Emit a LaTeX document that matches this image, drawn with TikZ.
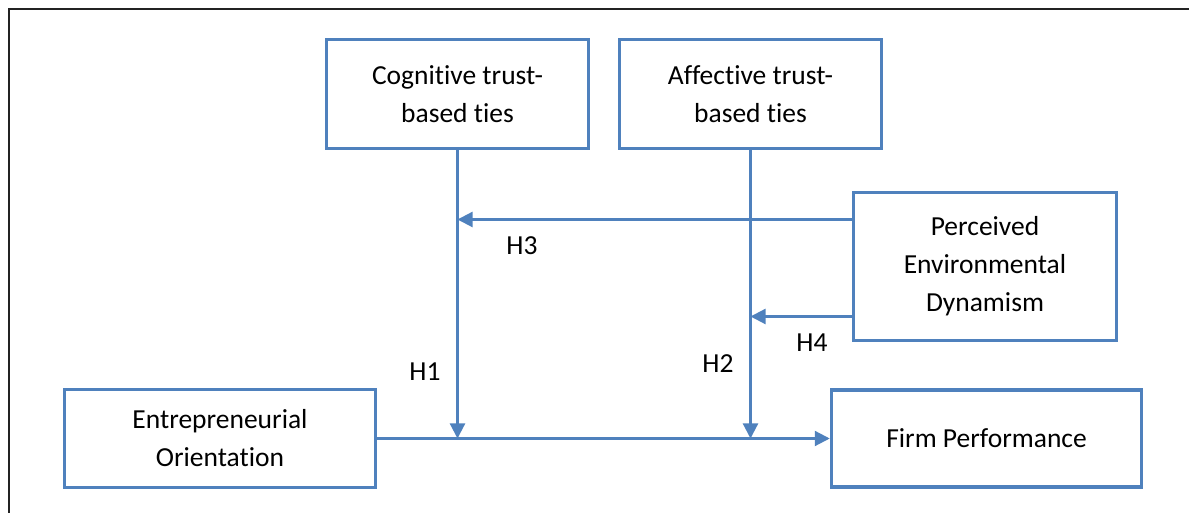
\documentclass[tikz,border=0pt]{standalone}
\usepackage{fontspec}
\setmainfont{Carlito}[Ligatures=NoCommon]
\usepackage{tikz}
\usetikzlibrary{arrows.meta, positioning, calc}
\definecolor{officeblue}{RGB}{79,129,189}
\definecolor{framegray}{RGB}{35,35,35}

\begin{document}
\begin{tikzpicture}[x=1pt, y=1pt, >={Triangle[length=15pt, width=15pt]},
    box/.style={draw=officeblue, line width=3.5pt, align=center, inner sep=0pt,
        font=\fontsize{27.5}{38}\selectfont},
    hyp/.style={font=\fontsize{27.5}{38}\selectfont, inner sep=0pt},
    link/.style={->, draw=officeblue, fill=officeblue, line width=2.2pt}]
    \useasboundingbox (0,0) rectangle (1189,513);

    % Frame
    \draw[framegray, line width=2.5pt] (9,0) -- (9,504) -- (1189,504);

    % Constructs
    \node[box, minimum width=262pt, minimum height=109pt] (cog) at (457.5,419) {Cognitive trust-\\based ties};
    \node[box, minimum width=262pt, minimum height=109pt] (aff) at (750.5,419) {Affective trust-\\based ties};
    \node[box, minimum width=263pt, minimum height=148pt] (ped) at (985,246.5) {Perceived\\Environmental\\Dynamism};
    \node[box, minimum width=311pt, minimum height=98pt] (eo) at (220,74.5) {Entrepreneurial\\Orientation};
    \node[box, minimum width=310pt, minimum height=97pt] (firm) at (986.5,74.5) {Firm Performance};

    % Main effect
    \draw[link] (eo.east) -- (firm.west);

    % Moderating ties
    \draw[link] (cog) -- (cog |- eo.east);
    \draw[link] (aff) -- (aff |- eo.east);

    % Dynamism
    \coordinate (h3from) at ([yshift=47pt]ped.west);
    \coordinate (h4from) at ([yshift=-50pt]ped.west);
    \draw[link] (h3from) -- (cog.south |- h3from);
    \draw[link] (h4from) -- (aff.south |- h4from);

    % Hypotheses
    \node[hyp] (h1) at (425,141) {H1};
    \node[hyp] (h2) at (718,149) {H2};
    \node[hyp] (h3) at (522,267) {H3};
    \node[hyp] (h4) at (812,170) {H4};
\end{tikzpicture}
\end{document}
